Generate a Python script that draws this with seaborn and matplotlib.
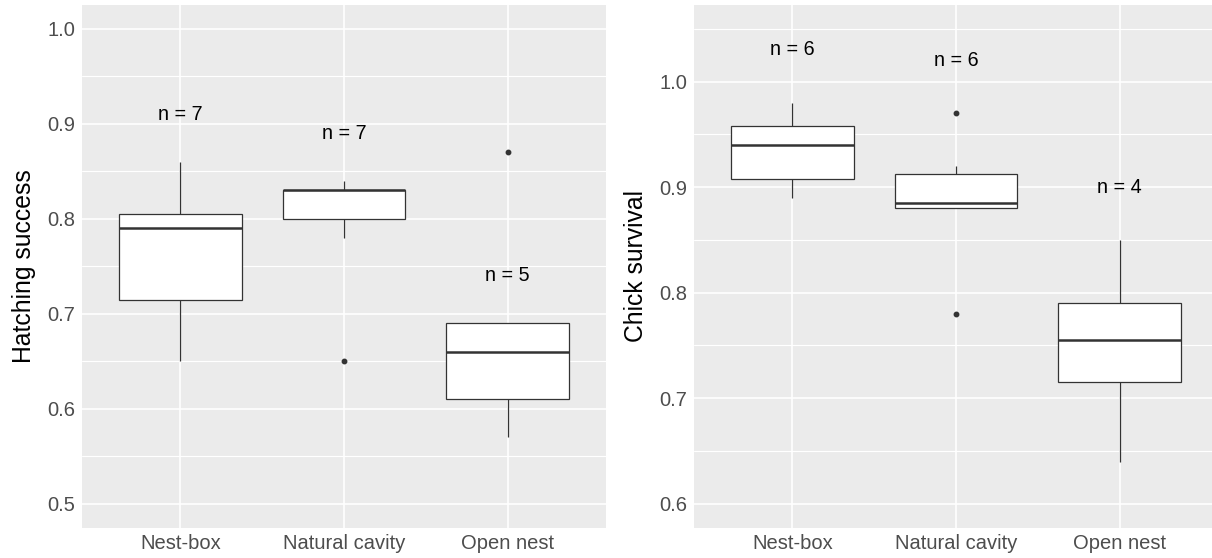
import matplotlib
matplotlib.use("Agg")
import matplotlib.pyplot as plt
import seaborn as sns
import pandas as pd
from matplotlib.ticker import MultipleLocator, FormatStrFormatter

# ---------------- data ----------------
categories = ["Nest-box", "Natural cavity", "Open nest"]

hatch_nestbox = [0.65, 0.70, 0.73, 0.79, 0.80, 0.81, 0.86]
hatch_cavity = [0.65, 0.78, 0.82, 0.83, 0.83, 0.83, 0.84]
hatch_open = [0.57, 0.61, 0.66, 0.69, 0.87]

chick_nestbox = [0.89, 0.90, 0.93, 0.95, 0.96, 0.98]
chick_cavity = [0.78, 0.88, 0.88, 0.89, 0.92, 0.97]
chick_open = [0.64, 0.74, 0.77, 0.85]

hatch_label_y = [0.91, 0.89, 0.74]
chick_label_y = [1.03, 1.02, 0.90]

hatch_ticks = [0.5, 0.6, 0.7, 0.8, 0.9, 1.0]
chick_ticks = [0.6, 0.7, 0.8, 0.9, 1.0]
hatch_limits = (0.475, 1.025)
chick_limits = (0.5775, 1.0725)


def long_df(groups):
    rows = []
    for cat, vals in zip(categories, groups):
        for v in vals:
            rows.append({"habitat": cat, "value": v})
    return pd.DataFrame(rows)


hatch_df = long_df([hatch_nestbox, hatch_cavity, hatch_open])
chick_df = long_df([chick_nestbox, chick_cavity, chick_open])

# ---------------- style ----------------
sns.set_theme(style="darkgrid")
plt.rcParams["font.family"] = ["Liberation Sans", "DejaVu Sans"]

BG = "#EBEBEB"
LINE = "#333333"
TICKTXT = "#4D4D4D"

fig = plt.figure(figsize=(12.12, 5.58), dpi=100)
W, H = 1212.0, 558.0
bottom = 1 - 527.5 / H
height = 522.5 / H
ax1 = fig.add_axes([82 / W, bottom, 524 / W, height])
ax2 = fig.add_axes([694 / W, bottom, 524 / W, height])


def draw(ax, df, label_y, ticks, limits, ylabel):
    ax.set_facecolor(BG)
    sns.boxplot(
        data=df, x="habitat", y="value", order=categories, ax=ax,
        color="white", linecolor=LINE, linewidth=0.9, width=0.75,
        fliersize=3.2, showcaps=False, saturation=1,
        medianprops={"linewidth": 1.8, "color": LINE},
        flierprops={"marker": "o", "markerfacecolor": LINE,
                    "markeredgecolor": LINE},
    )
    counts = df.groupby("habitat")["value"].count()
    for i, cat in enumerate(categories):
        ax.text(i, label_y[i], f"n = {counts[cat]}", ha="center", va="center",
                fontsize=14.2, color="black")
    ax.set_xlim(-0.6, 2.6)
    ax.set_ylim(*limits)
    ax.set_yticks(ticks)
    ax.yaxis.set_minor_locator(MultipleLocator(0.05))
    ax.yaxis.set_major_formatter(FormatStrFormatter("%.1f"))
    ax.set_axisbelow(True)
    ax.grid(False)
    ax.grid(True, which="major", axis="both", color="white", linewidth=1.2)
    ax.grid(True, which="minor", axis="y", color="white", linewidth=0.8)
    for s in ax.spines.values():
        s.set_visible(False)
    ax.tick_params(axis="both", which="major", length=2.7, width=0.8,
                   color=LINE, labelcolor=TICKTXT, labelsize=14.5, pad=2)
    ax.tick_params(axis="both", which="minor", length=0)
    ax.set_xlabel("")
    ax.set_ylabel(ylabel, fontsize=17.8, color="black", va="center")
    ax.yaxis.set_label_coords(-0.11, 0.5)


draw(ax1, hatch_df, hatch_label_y, hatch_ticks, hatch_limits, "Hatching success")
draw(ax2, chick_df, chick_label_y, chick_ticks, chick_limits, "Chick survival")

fig.savefig("out.png", dpi=100, facecolor="white")
